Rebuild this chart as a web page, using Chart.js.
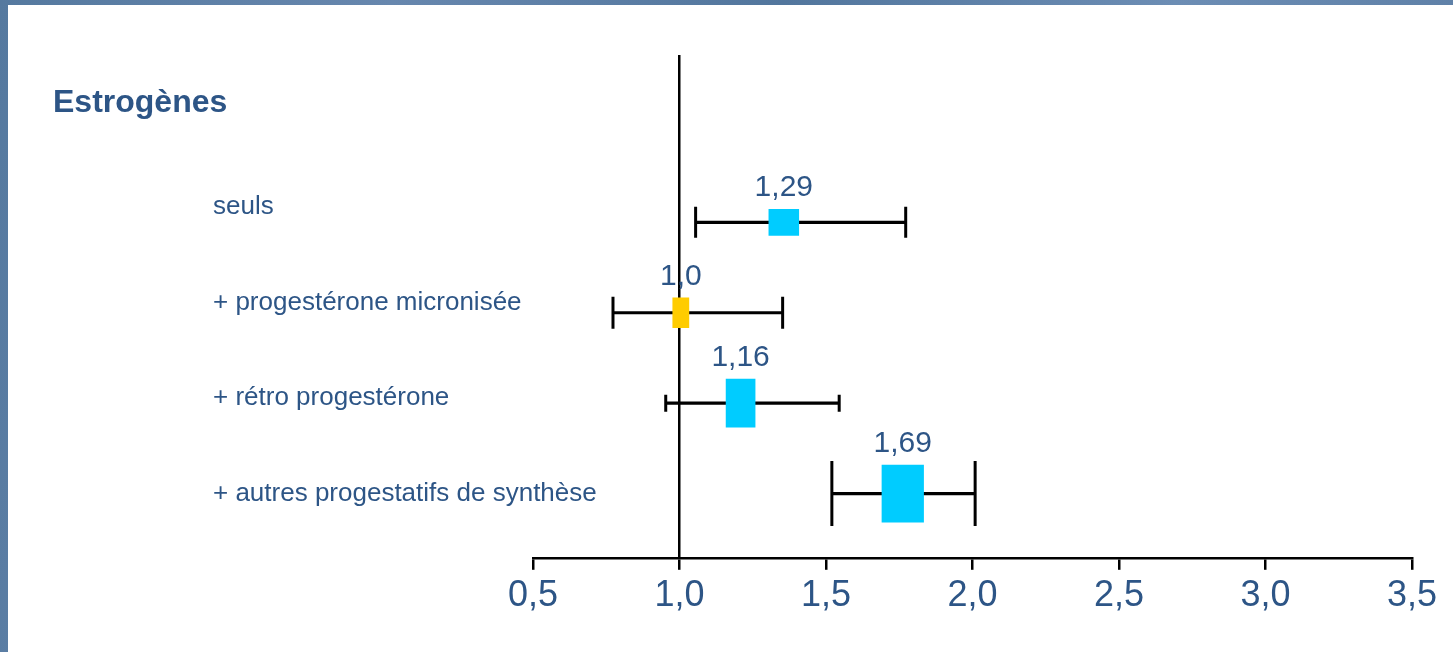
<!DOCTYPE html>
<html lang="fr">
<head>
<meta charset="utf-8">
<title>Estrogènes</title>
<script src="https://cdn.jsdelivr.net/npm/chart.js@4.4.1/dist/chart.umd.min.js"></script>
<style>
  html, body { margin: 0; padding: 0; }
  body {
    width: 1453px; height: 652px; overflow: hidden; position: relative;
    background: linear-gradient(100deg, #55799f 0%, #6787ae 25%, #52769d 50%, #6c8db4 75%, #5a7ca3 100%);
  }
  #slide { position: absolute; left: 8px; top: 5px; right: 0; bottom: 0; background: #fff; }
  #wrap { position: absolute; left: 0; top: 0; width: 1453px; height: 652px; }
</style>
</head>
<body>
<div id="slide"></div>
<div id="wrap"><canvas id="forest"></canvas></div>
<script>
const groupTitle = 'Estrogènes'
const rowLabels = ['seuls', '+ progestérone micronisée', '+ rétro progestérone', '+ autres progestatifs de synthèse']
const estimates = [1.29, 1.0, 1.16, 1.69]
const ciLow = [1.055, 0.773, 0.953, 1.52]
const ciHigh = [1.772, 1.352, 1.545, 2.009]
const boxLow = [1.305, 0.977, 1.159, 1.691]
const boxHigh = [1.407, 1.032, 1.258, 1.833]
const xTicks = [0.5, 1.0, 1.5, 2.0, 2.5, 3.0, 3.5]

// styling
const FONT = "'Liberation Sans', Arial, sans-serif"
const TEXT = '#2d5586'
const CYAN = '#00ccff'
const YELLOW = '#ffcc00'
const boxHeights = [26, 30, 48, 57]
const capHeights = [31, 32, 17, 65]

const fmt = (v) => {
  const s = String(v).replace('.', ',')
  return s.includes(',') ? s : s + ',0'
}

const forestText = {
  id: 'forestText',
  afterDatasetsDraw(chart) {
    const ctx = chart.ctx
    ctx.save()
    ctx.fillStyle = TEXT
    ctx.textBaseline = 'alphabetic'
    ctx.textAlign = 'left'
    ctx.font = `bold 32px ${FONT}`
    ctx.fillText(groupTitle, 53, 112)

    // estimate above each box
    ctx.font = `30px ${FONT}`
    ctx.textAlign = 'center'
    estimates.forEach((v, i) => {
      const bar = chart.getDatasetMeta(i).data[0]
      const cx = (bar.x + bar.base) / 2
      const top = bar.y - bar.height / 2
      ctx.fillText(fmt(v), cx, top - 13)
    })
    ctx.restore()
  }
}

// one dataset per box so each gets its own height
const boxSets = rowLabels.map((_, i) => ({
  data: [{ y: i + 1, x: [boxLow[i], boxHigh[i]] }],
  backgroundColor: estimates[i] === 1 ? YELLOW : CYAN,
  barThickness: boxHeights[i],
  borderWidth: 0,
  grouped: false,
  order: 0,
  xAxisID: 'x',
  yAxisID: 'y'
}))

new Chart(document.getElementById('forest'), {
  type: 'bar',
  data: {
    datasets: [
      ...boxSets,
      {
        type: 'scatter',
        // whisker caps
        data: rowLabels.flatMap((_, i) => [{ x: ciLow[i], y: i + 1 }, { x: ciHigh[i], y: i + 1 }]),
        pointStyle: 'line',
        rotation: 90,
        radius: (c) => capHeights[Math.floor(c.dataIndex / 2)] / 2,
        borderColor: '#000',
        borderWidth: 3,
        showLine: false,
        order: 1,
        xAxisID: 'x',
        yAxisID: 'y'
      },
      {
        // confidence interval
        data: rowLabels.map((_, i) => ({ y: i + 1, x: [ciLow[i], ciHigh[i]] })),
        backgroundColor: '#000',
        barThickness: 2.5,
        borderWidth: 0,
        grouped: false,
        order: 2,
        xAxisID: 'x',
        yAxisID: 'y'
      }
    ]
  },
  options: {
    indexAxis: 'y',
    responsive: true,
    maintainAspectRatio: false,
    animation: false,
    layout: { padding: { left: 533, right: 41, top: 55, bottom: 29 } },
    plugins: {
      legend: { display: false },
      tooltip: { enabled: false }
    },
    scales: {
      x: {
        type: 'linear',
        min: 0.5,
        max: 3.5,
        afterBuildTicks: (s) => { s.ticks = xTicks.map(v => ({ value: v })) },
        ticks: {
          callback: (v) => v.toFixed(1).replace('.', ','),
          color: TEXT,
          font: { family: FONT, size: 36 },
          padding: 5,
          maxRotation: 0
        },
        grid: {
          color: (c) => c.tick && c.tick.value === 1 ? '#000' : 'rgba(0,0,0,0)',
          lineWidth: 2.5,
          drawTicks: true,
          tickLength: 12,
          tickColor: '#000',
          tickWidth: 2.5
        },
        border: { display: true, color: '#000', width: 2.5 }
      },
      y: {
        type: 'linear',
        reverse: true,
        offset: false,
        min: -0.85,
        max: 4.71,
        display: false
      },
      yl: {
        type: 'linear',
        axis: 'y',
        position: 'left',
        reverse: true,
        offset: false,
        min: -0.585,
        max: 4.666,
        afterBuildTicks: (s) => { s.ticks = rowLabels.map((_, i) => ({ value: i + 1 })) },
        afterFit: (s) => { s.width = 0 },
        ticks: {
          callback: (v) => rowLabels[v - 1],
          mirror: true,
          padding: -320,
          autoSkip: false,
          color: TEXT,
          font: { family: FONT, size: 26 }
        },
        grid: { display: false },
        border: { display: false }
      }
    }
  },
  plugins: [forestText]
})
</script>
</body>
</html>
